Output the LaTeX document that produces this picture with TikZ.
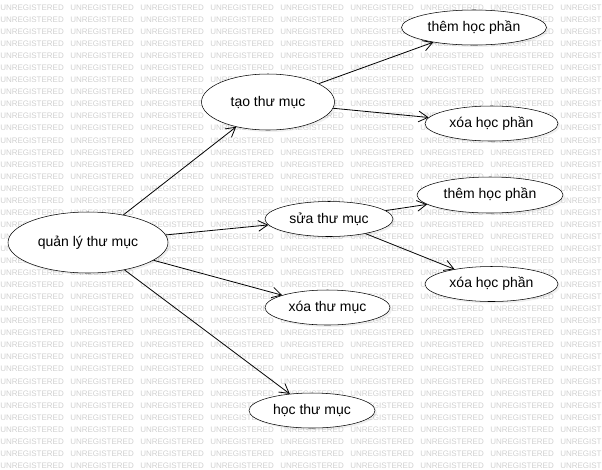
\documentclass[tikz,border=0pt]{standalone}
\usepackage{fontspec}
\setmainfont{Liberation Sans}
\usetikzlibrary{shapes.geometric,arrows.meta,shadows}
\definecolor{wmgray}{RGB}{208,208,208}
\tikzset{
  usecase/.style={ellipse, draw, fill=white, inner sep=0pt, font=\fontsize{10.5}{12}\selectfont,
    drop shadow={shadow xshift=1.5pt, shadow yshift=-1.5pt, opacity=0.12}},
  assoc/.style={-{Straight Barb[length=7pt,width=8pt]}, line width=0.6pt},
  wm/.style={anchor=west, inner sep=0pt, text=wmgray, font=\fontsize{6}{7}\selectfont}
}
\begin{document}
\begin{tikzpicture}[x=0.75pt,y=0.75pt,yscale=-1,xscale=1]
\useasboundingbox (0,0) rectangle (602,469);

%Watermark
\begin{scope}
\clip (0,0) rectangle (602,469);
\foreach \r in {0,...,38}
  \foreach \c in {0,...,8}
    \node[wm] at (70*\c, 7.7+12.05*\r) {UNREGISTERED};
\end{scope}

%Shape: Ellipse [id:quanly]
\node[usecase, minimum width=120pt, minimum height=45.75pt] (quanly) at (88,242.5) {quản lý thư mục};
%Shape: Ellipse [id:tao]
\node[usecase, minimum width=99.75pt, minimum height=42pt] (tao) at (268,102) {tạo thư mục};
%Shape: Ellipse [id:them1]
\node[usecase, minimum width=108.75pt, minimum height=26.25pt] (them1) at (474,27.5) {thêm học phần};
%Shape: Ellipse [id:xoa1]
\node[usecase, minimum width=99.75pt, minimum height=26.25pt] (xoa1) at (491.5,123.5) {xóa học phần};
%Shape: Ellipse [id:sua]
\node[usecase, minimum width=96pt, minimum height=26.25pt] (sua) at (329,219) {sửa thư mục};
%Shape: Ellipse [id:them2]
\node[usecase, minimum width=109.5pt, minimum height=27pt] (them2) at (490,195) {thêm học phần};
%Shape: Ellipse [id:xoa2]
\node[usecase, minimum width=99.75pt, minimum height=26.25pt] (xoa2) at (491.5,284) {xóa học phần};
%Shape: Ellipse [id:xoatm]
\node[usecase, minimum width=93.75pt, minimum height=26.25pt] (xoatm) at (327.5,307.5) {xóa thư mục};
%Shape: Ellipse [id:hoc]
\node[usecase, minimum width=94.5pt, minimum height=26.25pt] (hoc) at (312,410.5) {học thư mục};

%Straight Lines
\draw[assoc] (quanly) -- (tao);
\draw[assoc] (quanly) -- (sua);
\draw[assoc] (quanly) -- (xoatm);
\draw[assoc] (quanly) -- (hoc);
%Straight Lines
\draw[assoc] (tao) -- (them1);
\draw[assoc] (tao) -- (xoa1);
%Straight Lines
\draw[assoc] (sua) -- (them2);
\draw[assoc] (sua) -- (xoa2);
\end{tikzpicture}
\end{document}
